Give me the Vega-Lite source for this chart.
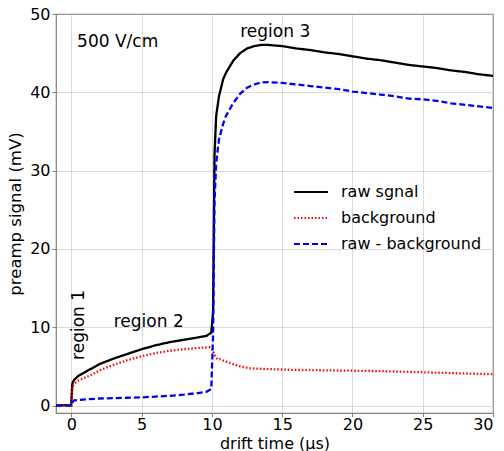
{
  "$schema": "https://vega.github.io/schema/vega-lite/v6.json",
  "width": 437,
  "height": 399,
  "autosize": {"type": "none"},
  "padding": {"left": 56, "top": 14, "right": 11, "bottom": 38},
  "background": "white",
  "config": {
    "font": "DejaVu Sans",
    "view": {"stroke": "#808080", "strokeWidth": 1.2},
    "axis": {
      "grid": true, "gridColor": "#b0b0b0", "gridWidth": 0.8, "gridOpacity": 0.6,
      "domain": false, "tickColor": "#808080", "tickSize": 4, "tickWidth": 1,
      "labelFont": "DejaVu Sans", "labelFontSize": 16, "labelColor": "black", "labelPadding": 1,
      "titleFont": "DejaVu Sans", "titleFontSize": 16.5, "titleFontWeight": "normal", "titleColor": "black"
    }
  },
  "datasets": {
    "curves": [
      {"t": -1.1, "v": 0, "s": "raw sgnal"}, {"t": -0.5, "v": 0.05, "s": "raw sgnal"}, {"t": -0.02, "v": 0, "s": "raw sgnal"},
      {"t": 0.05, "v": 2.6, "s": "raw sgnal"}, {"t": 0.1, "v": 3.0, "s": "raw sgnal"}, {"t": 0.2, "v": 3.3, "s": "raw sgnal"},
      {"t": 0.5, "v": 3.8, "s": "raw sgnal"}, {"t": 1, "v": 4.3, "s": "raw sgnal"}, {"t": 1.5, "v": 4.8, "s": "raw sgnal"},
      {"t": 2, "v": 5.3, "s": "raw sgnal"}, {"t": 3, "v": 6.0, "s": "raw sgnal"}, {"t": 4, "v": 6.6, "s": "raw sgnal"},
      {"t": 5, "v": 7.2, "s": "raw sgnal"}, {"t": 6, "v": 7.7, "s": "raw sgnal"}, {"t": 7, "v": 8.1, "s": "raw sgnal"},
      {"t": 8, "v": 8.4, "s": "raw sgnal"}, {"t": 9, "v": 8.7, "s": "raw sgnal"}, {"t": 9.6, "v": 8.9, "s": "raw sgnal"},
      {"t": 9.95, "v": 9.3, "s": "raw sgnal"}, {"t": 10.08, "v": 12, "s": "raw sgnal"}, {"t": 10.13, "v": 22, "s": "raw sgnal"},
      {"t": 10.18, "v": 32, "s": "raw sgnal"}, {"t": 10.3, "v": 37, "s": "raw sgnal"}, {"t": 10.5, "v": 39.5, "s": "raw sgnal"},
      {"t": 10.8, "v": 41.7, "s": "raw sgnal"}, {"t": 11, "v": 42.5, "s": "raw sgnal"}, {"t": 11.5, "v": 44.0, "s": "raw sgnal"},
      {"t": 12, "v": 45.0, "s": "raw sgnal"}, {"t": 12.5, "v": 45.6, "s": "raw sgnal"}, {"t": 13, "v": 45.9, "s": "raw sgnal"},
      {"t": 13.5, "v": 46.05, "s": "raw sgnal"}, {"t": 14, "v": 46.05, "s": "raw sgnal"}, {"t": 15, "v": 45.9, "s": "raw sgnal"},
      {"t": 16, "v": 45.6, "s": "raw sgnal"}, {"t": 17, "v": 45.4, "s": "raw sgnal"}, {"t": 18, "v": 45.1, "s": "raw sgnal"},
      {"t": 19, "v": 44.9, "s": "raw sgnal"}, {"t": 20, "v": 44.6, "s": "raw sgnal"}, {"t": 21, "v": 44.3, "s": "raw sgnal"},
      {"t": 22, "v": 44.1, "s": "raw sgnal"}, {"t": 23, "v": 43.8, "s": "raw sgnal"}, {"t": 24, "v": 43.5, "s": "raw sgnal"},
      {"t": 25, "v": 43.3, "s": "raw sgnal"}, {"t": 26, "v": 43.1, "s": "raw sgnal"}, {"t": 27, "v": 42.8, "s": "raw sgnal"},
      {"t": 28, "v": 42.6, "s": "raw sgnal"}, {"t": 29, "v": 42.3, "s": "raw sgnal"}, {"t": 30, "v": 42.1, "s": "raw sgnal"},

      {"t": -1.1, "v": 0, "s": "background"}, {"t": -0.02, "v": 0, "s": "background"}, {"t": 0.05, "v": 2.0, "s": "background"},
      {"t": 0.1, "v": 2.5, "s": "background"}, {"t": 0.2, "v": 2.8, "s": "background"}, {"t": 0.5, "v": 3.2, "s": "background"},
      {"t": 1, "v": 3.6, "s": "background"}, {"t": 1.5, "v": 4.0, "s": "background"}, {"t": 2, "v": 4.5, "s": "background"},
      {"t": 3, "v": 5.2, "s": "background"}, {"t": 4, "v": 5.8, "s": "background"}, {"t": 5, "v": 6.3, "s": "background"},
      {"t": 6, "v": 6.7, "s": "background"}, {"t": 7, "v": 7.0, "s": "background"}, {"t": 8, "v": 7.2, "s": "background"},
      {"t": 9, "v": 7.35, "s": "background"}, {"t": 9.8, "v": 7.45, "s": "background"}, {"t": 10.0, "v": 7.3, "s": "background"},
      {"t": 10.2, "v": 6.4, "s": "background"}, {"t": 10.4, "v": 5.9, "s": "background"}, {"t": 10.6, "v": 5.9, "s": "background"},
      {"t": 11, "v": 5.6, "s": "background"}, {"t": 11.5, "v": 5.3, "s": "background"}, {"t": 12, "v": 5.0, "s": "background"},
      {"t": 12.75, "v": 4.75, "s": "background"}, {"t": 14, "v": 4.65, "s": "background"}, {"t": 15, "v": 4.6, "s": "background"},
      {"t": 16, "v": 4.55, "s": "background"}, {"t": 18, "v": 4.5, "s": "background"}, {"t": 20, "v": 4.45, "s": "background"},
      {"t": 22, "v": 4.4, "s": "background"}, {"t": 24, "v": 4.3, "s": "background"}, {"t": 26, "v": 4.2, "s": "background"},
      {"t": 28, "v": 4.1, "s": "background"}, {"t": 30, "v": 4.0, "s": "background"},

      {"t": -1.1, "v": 0, "s": "raw - background"}, {"t": -0.5, "v": 0.02, "s": "raw - background"}, {"t": -0.02, "v": 0, "s": "raw - background"},
      {"t": 0.05, "v": 0.4, "s": "raw - background"}, {"t": 0.2, "v": 0.65, "s": "raw - background"}, {"t": 0.5, "v": 0.7, "s": "raw - background"},
      {"t": 1, "v": 0.8, "s": "raw - background"}, {"t": 2, "v": 0.9, "s": "raw - background"}, {"t": 3, "v": 0.95, "s": "raw - background"},
      {"t": 4, "v": 1.0, "s": "raw - background"}, {"t": 5, "v": 1.05, "s": "raw - background"}, {"t": 6, "v": 1.15, "s": "raw - background"},
      {"t": 7, "v": 1.25, "s": "raw - background"}, {"t": 8, "v": 1.4, "s": "raw - background"}, {"t": 9, "v": 1.6, "s": "raw - background"},
      {"t": 9.6, "v": 1.75, "s": "raw - background"}, {"t": 9.95, "v": 2.1, "s": "raw - background"}, {"t": 10.08, "v": 9, "s": "raw - background"},
      {"t": 10.13, "v": 18, "s": "raw - background"}, {"t": 10.18, "v": 26, "s": "raw - background"}, {"t": 10.3, "v": 31, "s": "raw - background"},
      {"t": 10.5, "v": 34, "s": "raw - background"}, {"t": 10.8, "v": 36, "s": "raw - background"}, {"t": 11, "v": 37, "s": "raw - background"},
      {"t": 11.5, "v": 38.6, "s": "raw - background"}, {"t": 12, "v": 39.8, "s": "raw - background"}, {"t": 12.5, "v": 40.6, "s": "raw - background"},
      {"t": 13, "v": 41.0, "s": "raw - background"}, {"t": 13.5, "v": 41.25, "s": "raw - background"}, {"t": 14, "v": 41.3, "s": "raw - background"},
      {"t": 15, "v": 41.2, "s": "raw - background"}, {"t": 16, "v": 41.0, "s": "raw - background"}, {"t": 17, "v": 40.8, "s": "raw - background"},
      {"t": 18, "v": 40.6, "s": "raw - background"}, {"t": 19, "v": 40.4, "s": "raw - background"}, {"t": 20, "v": 40.1, "s": "raw - background"},
      {"t": 21, "v": 39.9, "s": "raw - background"}, {"t": 22, "v": 39.7, "s": "raw - background"}, {"t": 23, "v": 39.5, "s": "raw - background"},
      {"t": 24, "v": 39.2, "s": "raw - background"}, {"t": 25, "v": 39.1, "s": "raw - background"}, {"t": 26, "v": 38.9, "s": "raw - background"},
      {"t": 27, "v": 38.6, "s": "raw - background"}, {"t": 28, "v": 38.4, "s": "raw - background"}, {"t": 29, "v": 38.2, "s": "raw - background"},
      {"t": 30, "v": 38.0, "s": "raw - background"}
    ],
    "leftnotes": [
      {"t": 0.4, "v": 46.4, "label": "500 V/cm"}
    ],
    "notes": [
      {"t": 14.5, "v": 47.7, "label": "region 3"},
      {"t": 5.5, "v": 10.7, "label": "region 2"}
    ],
    "rotated": [
      {"t": 0.57, "v": 10.3, "label": "region 1"}
    ]
  },
  "layer": [
    {
      "data": {"name": "curves"},
      "mark": {"type": "line", "strokeWidth": 2.3, "clip": true},
      "encoding": {
        "x": {"field": "t", "type": "quantitative", "scale": {"domain": [-1.1, 30], "nice": false, "zero": false},
              "axis": {"values": [0, 5, 10, 15, 20, 25, 30], "title": "drift time (μs)", "titleFontSize": 16,
                       "titleY": 35, "titleBaseline": "alphabetic", "labelPadding": 0, "tickSize": 3.5}},
        "y": {"field": "v", "type": "quantitative", "scale": {"domain": [-0.95, 50], "nice": false, "zero": false},
              "axis": {"values": [0, 10, 20, 30, 40, 50], "title": "preamp signal (mV)", "titlePadding": 6, "labelPadding": 2}},
        "color": {"field": "s", "type": "nominal",
                  "scale": {"domain": ["raw sgnal", "background", "raw - background"], "range": ["#000000", "#ff0000", "#0000ff"]},
                  "legend": {"title": null, "orient": "none", "legendX": 237, "legendY": 160, "symbolType": "stroke",
                             "symbolSize": 1156, "symbolStrokeWidth": 2, "labelFontSize": 16, "labelFont": "DejaVu Sans",
                             "labelColor": "black", "rowPadding": -14, "labelOffset": 12, "padding": 0}},
        "strokeDash": {"field": "s", "type": "nominal",
                       "scale": {"domain": ["raw sgnal", "background", "raw - background"], "range": [[1, 0], [1.5, 2], [6, 3]]},
                       "legend": {"title": null}},
        "order": {"field": "t", "type": "quantitative"}
      }
    },
    {
      "data": {"name": "leftnotes"},
      "mark": {"type": "text", "fontSize": 17, "font": "DejaVu Sans", "color": "black", "baseline": "middle", "align": "left"},
      "encoding": {
        "x": {"field": "t", "type": "quantitative"},
        "y": {"field": "v", "type": "quantitative"},
        "text": {"field": "label"}
      }
    },
    {
      "data": {"name": "notes"},
      "mark": {"type": "text", "fontSize": 17, "font": "DejaVu Sans", "color": "black", "baseline": "middle", "align": "center"},
      "encoding": {
        "x": {"field": "t", "type": "quantitative"},
        "y": {"field": "v", "type": "quantitative"},
        "text": {"field": "label"}
      }
    },
    {
      "data": {"name": "rotated"},
      "mark": {"type": "text", "fontSize": 17, "font": "DejaVu Sans", "color": "black", "baseline": "middle", "align": "center", "angle": 270},
      "encoding": {
        "x": {"field": "t", "type": "quantitative"},
        "y": {"field": "v", "type": "quantitative"},
        "text": {"field": "label"}
      }
    }
  ]
}
